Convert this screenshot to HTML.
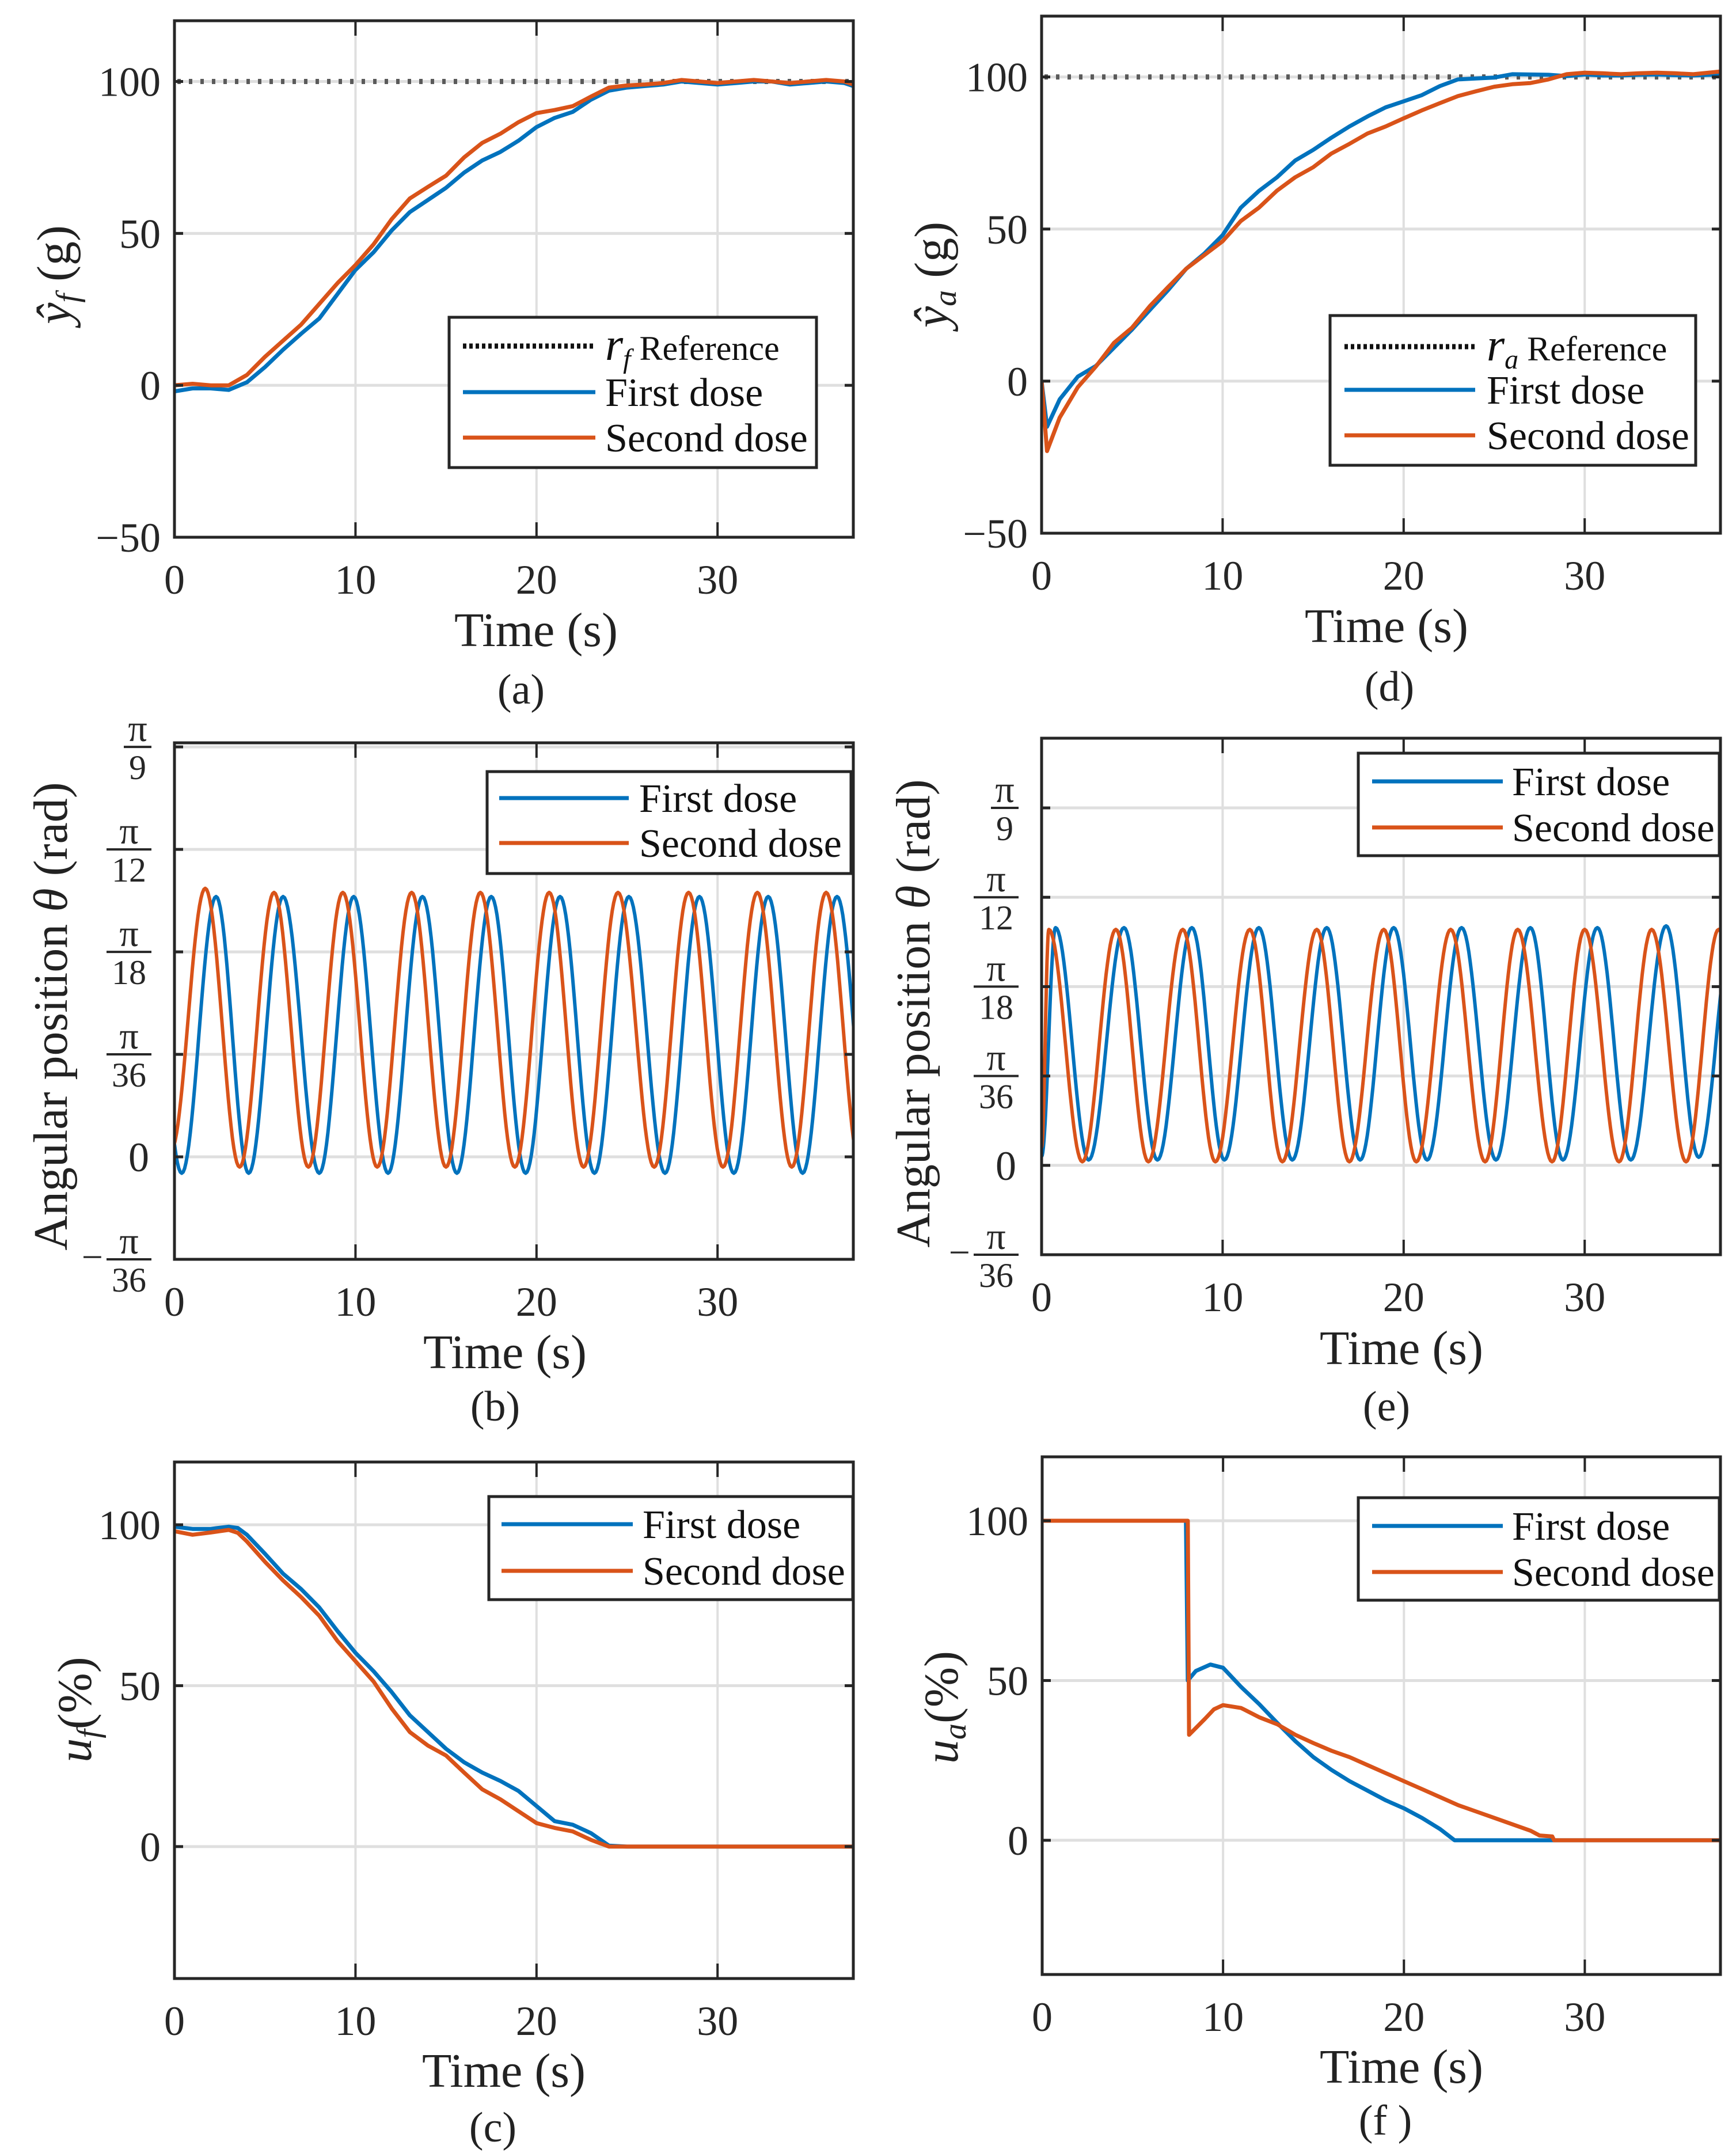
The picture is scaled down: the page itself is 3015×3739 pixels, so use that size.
<!DOCTYPE html>
<html><head><meta charset="utf-8">
<style>
html,body{margin:0;padding:0;background:#fff;}
svg{display:block;font-family:"Liberation Serif","DejaVu Serif",serif;}
text{font-family:"Liberation Serif","DejaVu Serif",serif;}
</style></head>
<body>
<svg id="fig" width="3015" height="3739" viewBox="0 0 3015 3739" xmlns="http://www.w3.org/2000/svg"></svg>
<script>
// ---------- data ----------
const xTicks=[0,10,20,30];
const aTime=[0,1,2,3,4,5,6,7,8,9,10,11,12,13,14,15,16,17,18,19,20,21,22,23,24,25,26,27,28,29,30,31,32,33,34,35,36,37,37.5];
const aFirst=[-2,-1,-1,-1.5,1,6,11.7,17,22,30,38,43.8,51,57,61,65,70,74,76.8,80.5,85,88,90,94,97,98,98.5,99,100,99.5,99,99.5,100,100,99,99.5,100,99.5,98.5];
const aSecond=[0,0.5,0,0,3.4,9.4,14.7,20,26.8,33.6,39.6,46.4,54.7,61.5,65.3,69,75,79.8,82.8,86.6,89.6,90.6,91.9,95,98,98.7,99,99.5,100.5,100,99.5,100,100.5,100,99.5,100,100.5,100,99];
const aRef=[100];
const aYTicks=[-50,0,50,100];

const dTime=[0,0.3,1,2,3,4,5,6,7,8,9,10,11,12,13,14,15,16,17,18,19,20,21,22,23,24,25,26,27,28,29,30,31,32,33,34,35,36,37,37.5];
const dFirst=[0,-15,-6,1.5,5,11,17,23.5,30,37,42,48,57,62.5,67,72.5,76,80,83.7,87,90,92,94,97,99.2,99.5,99.8,100.9,100.8,100.7,100.3,100.8,100.5,100.5,100.7,100.8,100.6,100.5,100.7,100.8];
const dSecond=[0,-23,-12,-2,4.8,12.6,17.6,24.8,31,37,41.5,46,52.6,57,62.6,67,70.3,74.8,78,81.4,83.7,86.4,89,91.4,93.7,95.3,96.8,97.6,98,99.2,100.9,101.4,101.2,100.9,101.2,101.4,101.2,100.9,101.5,101.8];
const dRef=[100];
const dYTicks=[-50,0,50,100];

// angular position: alternating extrema (time, degrees)
const bFirstT=[-1.5,0.4,2.3,4.1,6.0,8.0,9.9,11.8,13.7,15.6,17.5,19.4,21.3,23.2,25.1,27.1,29.0,30.9,32.8,34.7,36.6,38.5];
const bFirstV=[12.7,-0.8,12.7,-0.8,12.7,-0.8,12.7,-0.8,12.7,-0.8,12.7,-0.8,12.7,-0.8,12.7,-0.8,12.7,-0.8,12.7,-0.8,12.7,-0.8];
const bSecondT=[-0.2,1.7,3.6,5.5,7.4,9.3,11.2,13.1,15.0,16.9,18.8,20.7,22.6,24.5,26.5,28.4,30.3,32.2,34.1,36.0,37.9];
const bSecondV=[0.3,13.1,-0.5,12.9,-0.5,12.9,-0.5,12.9,-0.5,12.9,-0.5,12.9,-0.5,12.9,-0.5,12.9,-0.5,12.9,-0.5,12.9,-0.5];
const angTicks=[-5,0,5,10,15,20];
const angDen=["36","","36","18","12","9"];

const eFirstT=[0,0.77,2.6,4.55,6.4,8.3,10.1,12.0,13.85,15.75,17.6,19.45,21.3,23.2,25.1,27.0,28.8,30.7,32.55,34.5,36.3,38.2];
const eFirstV=[0.5,13.3,0.3,13.3,0.3,13.3,0.3,13.3,0.3,13.3,0.3,13.3,0.3,13.3,0.3,13.3,0.3,13.3,0.3,13.4,0.45,13.3];
const eSecondT=[0,0.4,2.25,4.1,5.9,7.8,9.6,11.5,13.3,15.2,17.0,18.9,20.7,22.6,24.5,26.3,28.2,30.0,31.9,33.7,35.6,37.4,39.2];
const eSecondV=[1,13.2,0.2,13.2,0.2,13.2,0.2,13.2,0.2,13.2,0.2,13.2,0.2,13.2,0.2,13.2,0.2,13.2,0.2,13.2,0.2,13.2,0.2];

const cTime=[0,1,2,3,3.5,4,5,6,7,8,9,10,11,12,13,14,15,16,17,18,19,20,21,22,23,24,25,30,37.5];
const cFirst=[99.4,98.7,98.7,99.4,99,96.9,91,84.8,80,74.3,67,60.2,54.5,48,40.8,35.6,30.4,26.2,23,20.4,17.3,12.6,7.9,6.8,4.2,0.3,0,0,0];
const cSecond=[98,96.9,97.6,98.4,97.5,94.8,88.5,82.7,77.5,71.7,63.9,57.6,51.3,42.9,35.6,31.4,28.3,23,17.8,14.7,11,7.3,5.8,4.7,2.1,0,0,0,0];
const uYTicks=[0,50,100];

const fFirstT=[0,7.95,8.05,8.5,9.3,10,11,12,13,14,15,16,17,18,19,20,21,22,22.8,37.5];
const fFirstV=[100,100,50,53,55,54,48,42.6,36.7,31,26,22,18.5,15.5,12.5,10,7,3.5,0,0];
const fSecondT=[0,8.05,8.12,9,9.5,10,11,12,13,14,15,16,17,18,19,20,21,22,23,24,25,26,27,27.5,28.2,28.3,37.5];
const fSecondV=[100,100,33,38,41,42.3,41.4,38.5,36.3,33,30.4,28,26,23.5,21,18.5,16,13.5,11,9,7,5,3,1.5,1.2,0,0];

// ---------- rendering ----------
const NS="http://www.w3.org/2000/svg";
const FONT='"Liberation Serif","DejaVu Serif",serif';
const svg=document.getElementById('fig');
const BLUE="#0072BD",ORANGE="#D95319",AX="#262626",GRID="#dfdfdf";
function mk(tag,attrs,parent){const e=document.createElementNS(NS,tag);for(const k in attrs)e.setAttribute(k,attrs[k]);if(tag==='text')e.setAttribute('font-family',FONT);(parent||svg).appendChild(e);return e;}

function axes(P){
  const g=mk('g',{});
  
  
  P.X=t=>P.x0+t/P.xmax*(P.x1-P.x0);
  P.Y=v=>P.y1-(v-P.ymin)/(P.ymax-P.ymin)*(P.y1-P.y0);
  const cp=mk('clipPath',{id:'clip-'+P.name},g);
  mk('rect',{x:P.x0,y:P.y0,width:P.x1-P.x0,height:P.y1-P.y0},cp);
  xTicks.forEach(t=>{
    const l=mk('line',{x1:P.X(t),x2:P.X(t),y1:P.y0,y2:P.y1,stroke:GRID,'stroke-width':4},g);
    
    
  });
  P.yTicks.forEach(v=>{
    const l=mk('line',{x1:P.x0,x2:P.x1,y1:P.Y(v),y2:P.Y(v),stroke:GRID,'stroke-width':5},g);
    
    
  });
  P.g=g;return g;
}
function finishAxes(P){
  const g=P.g;
  xTicks.forEach(t=>{
    mk('line',{x1:P.X(t),x2:P.X(t),y1:P.y1,y2:P.y1-26,stroke:AX,'stroke-width':4},g);
    mk('line',{x1:P.X(t),x2:P.X(t),y1:P.y0,y2:P.y0+26,stroke:AX,'stroke-width':4},g);
    const tx=mk('text',{x:P.X(t),y:P.y1+98,'font-size':72,'text-anchor':'middle',fill:AX},g);
    tx.textContent=t;
    
    
  });
  P.yTicks.forEach((v,i)=>{
    mk('line',{x1:P.x0,x2:P.x0+15,y1:P.Y(v),y2:P.Y(v),stroke:AX,'stroke-width':5},g);
    mk('line',{x1:P.x1,x2:P.x1-15,y1:P.Y(v),y2:P.Y(v),stroke:AX,'stroke-width':5},g);
    if(P.frac){
      const den=angDen[i];
      const yy=P.Y(v);
      if(den===""){
        const tx=mk('text',{x:P.x0-44,y:yy+25,'font-size':72,'text-anchor':'end',fill:AX},g);
        tx.textContent="0";
        
        
      } else {
        const w=den.length>1?78:48;
        const xr=P.x0-40, xl=xr-w, xc=(xl+xr)/2;
        mk('line',{x1:xl,x2:xr,y1:yy,y2:yy,stroke:AX,'stroke-width':4},g);
        const pn=mk('text',{x:xc,y:yy-10,'font-size':66,'text-anchor':'middle',fill:AX},g);
        pn.textContent="π";
        
        
        const dn=mk('text',{x:xc,y:yy+56,'font-size':60,'text-anchor':'middle',fill:AX},g);
        dn.textContent=den;
        
        
        if(v<0){
          const mn=mk('text',{x:xl-6,y:yy+18,'font-size':66,'text-anchor':'end',fill:AX},g);
          mn.textContent="−";
          
          
        }
      }
    } else {
      const tx=mk('text',{x:P.x0-24,y:P.Y(v)+25,'font-size':72,'text-anchor':'end',fill:AX},g);
      tx.textContent=(v<0?"−":"")+Math.abs(v);
      
      
    }
  });
  const box=mk('rect',{x:P.x0,y:P.y0,width:P.x1-P.x0,height:P.y1-P.y0,fill:'none',stroke:AX,'stroke-width':5},g);
  
  
}
function polyline(P,ts,vs,color,name){
  let d='';
  ts.forEach((t,i)=>{d+=(i?'L':'M')+P.X(t).toFixed(1)+','+P.Y(vs[i]).toFixed(1);});
  const p=mk('path',{d:d,fill:'none',stroke:color,'stroke-width':7,'stroke-linejoin':'round','clip-path':'url(#clip-'+P.name+')'},P.g);
  
  
}
function oscill(P,ts,vs,color,name){
  let d='';
  for(let i=0;i<ts.length-1;i++){
    const n=24;
    for(let k=(i?1:0);k<=n;k++){
      const f=k/n, t=ts[i]+(ts[i+1]-ts[i])*f;
      const v=vs[i]+(vs[i+1]-vs[i])*(1-Math.cos(Math.PI*f))/2;
      d+=(d?'L':'M')+P.X(t).toFixed(1)+','+P.Y(v).toFixed(1);
    }
  }
  const p=mk('path',{d:d,fill:'none',stroke:color,'stroke-width':6,'stroke-linejoin':'round','clip-path':'url(#clip-'+P.name+')'},P.g);
  
  
}
function refLine(P,vals){
  const l=mk('line',{x1:P.x0+5,x2:P.x1,y1:P.Y(vals[0]),y2:P.Y(vals[0]),stroke:'#5a5a5a','stroke-width':9,'stroke-dasharray':'6 14'},P.g);
  
  
}
function legend(L,entries){
  const g=mk('g',{});
  
  
  mk('rect',{x:L.x,y:L.y,width:L.w,height:L.h,fill:'#fff',stroke:AX,'stroke-width':5},g);
  entries.forEach((e,i)=>{
    const yy=L.rows[i];
    const ln=mk('line',{x1:L.lx1,x2:L.lx2,y1:yy,y2:yy,stroke:e.color,'stroke-width':e.dot?9:7,'stroke-dasharray':e.dot?'6 5':'none'},g);
    
    
    const tx=mk('text',{x:L.tx,y:yy+24,'font-size':e.small?60:70,fill:'#111'},g);
    if(e.sym){
      const s=document.createElementNS(NS,'tspan');s.setAttribute('font-style','italic');s.setAttribute('font-size','80');s.textContent=e.sym;tx.appendChild(s);
      const sb=document.createElementNS(NS,'tspan');sb.setAttribute('font-style','italic');sb.setAttribute('font-size','48');sb.setAttribute('dy','14');sb.textContent=e.sub;tx.appendChild(sb);
      const r=document.createElementNS(NS,'tspan');r.setAttribute('dy','-14');r.textContent='  '+e.label;tx.appendChild(r);
    } else tx.textContent=e.label;
    
    
  });
}
function label(x,y,content,size,rot,name){
  const t=mk('text',{x:x,y:y,'font-size':size,'text-anchor':'middle',fill:'#222',transform:rot?`rotate(-90 ${x} ${y})`:''});
  t.innerHTML=content;
  
  
}

const PA={name:'panel-a',x0:303,x1:1482,y0:36,y1:933,xmax:37.5,ymin:-50,ymax:120,yTicks:aYTicks};
const PD={name:'panel-d',x0:1809,x1:2988,y0:28,y1:926,xmax:37.5,ymin:-50,ymax:120,yTicks:dYTicks};
const PB={name:'panel-b',x0:303,x1:1482,y0:1290,y1:2187,xmax:37.5,ymin:-5,ymax:20.2,yTicks:angTicks,frac:true};
const PE={name:'panel-e',x0:1809,x1:2988,y0:1282,y1:2179,xmax:37.5,ymin:-5,ymax:23.9,yTicks:angTicks,frac:true};
const PC={name:'panel-c',x0:303,x1:1482,y0:2539,y1:3436,xmax:37.5,ymin:-41,ymax:119.5,yTicks:uYTicks};
const PF={name:'panel-f',x0:1810,x1:2988,y0:2530,y1:3429,xmax:37.5,ymin:-42,ymax:120,yTicks:uYTicks};

axes(PA);refLine(PA,aRef);polyline(PA,aTime,aFirst,BLUE,'first-dose-line');polyline(PA,aTime,aSecond,ORANGE,'second-dose-line');finishAxes(PA);
axes(PD);refLine(PD,dRef);polyline(PD,dTime,dFirst,BLUE,'first-dose-line');polyline(PD,dTime,dSecond,ORANGE,'second-dose-line');finishAxes(PD);
axes(PB);oscill(PB,bFirstT,bFirstV,BLUE,'first-dose-line');oscill(PB,bSecondT,bSecondV,ORANGE,'second-dose-line');finishAxes(PB);
axes(PE);oscill(PE,eFirstT,eFirstV,BLUE,'first-dose-line');oscill(PE,eSecondT,eSecondV,ORANGE,'second-dose-line');finishAxes(PE);
axes(PC);polyline(PC,cTime,cFirst,BLUE,'first-dose-line');polyline(PC,cTime,cSecond,ORANGE,'second-dose-line');finishAxes(PC);
axes(PF);polyline(PF,fFirstT,fFirstV,BLUE,'first-dose-line');polyline(PF,fSecondT,fSecondV,ORANGE,'second-dose-line');finishAxes(PF);

legend({x:780,y:551,w:638,h:261,lx1:804,lx2:1034,tx:1051,rows:[601,681,760]},
  [{color:'#111',dot:true,sym:'r',sub:'f',label:'Reference',small:true},{color:BLUE,label:'First dose'},{color:ORANGE,label:'Second dose'}]);
legend({x:2310,y:548,w:635,h:260,lx1:2335,lx2:2562,tx:2582,rows:[602,677,756]},
  [{color:'#111',dot:true,sym:'r',sub:'a',label:'Reference',small:true},{color:BLUE,label:'First dose'},{color:ORANGE,label:'Second dose'}]);
legend({x:846,y:1340,w:632,h:177,lx1:867,lx2:1092,tx:1110,rows:[1386,1464]},
  [{color:BLUE,label:'First dose'},{color:ORANGE,label:'Second dose'}]);
legend({x:2359,y:1308,w:627,h:178,lx1:2383,lx2:2610,tx:2626,rows:[1357,1437]},
  [{color:BLUE,label:'First dose'},{color:ORANGE,label:'Second dose'}]);
legend({x:849,y:2599,w:632,h:179,lx1:871,lx2:1099,tx:1116,rows:[2647,2728]},
  [{color:BLUE,label:'First dose'},{color:ORANGE,label:'Second dose'}]);
legend({x:2359,y:2601,w:627,h:178,lx1:2383,lx2:2610,tx:2626,rows:[2650,2730]},
  [{color:BLUE,label:'First dose'},{color:ORANGE,label:'Second dose'}]);

label(931,1122,'Time (s)',84,false,'x-axis-title');
label(2408,1115,'Time (s)',84,false,'x-axis-title');
label(877,2376,'Time (s)',84,false,'x-axis-title');
label(2434,2369,'Time (s)',84,false,'x-axis-title');
label(875,3624,'Time (s)',84,false,'x-axis-title');
label(2434,3617,'Time (s)',84,false,'x-axis-title');
label(122,477,'<tspan font-style="italic">ŷ</tspan><tspan font-style="italic" font-size="56" dy="14">f</tspan><tspan dy="-14"> (g)</tspan>',84,true,'y-axis-title');
label(1646,477,'<tspan font-style="italic">ŷ</tspan><tspan font-style="italic" font-size="56" dy="14">a</tspan><tspan dy="-14"> (g)</tspan>',84,true,'y-axis-title');
label(116,1765,'Angular position <tspan font-style="italic">θ</tspan> (rad)',84,true,'y-axis-title');
label(1614,1760,'Angular position <tspan font-style="italic">θ</tspan> (rad)',84,true,'y-axis-title');
label(158,2969,'<tspan font-style="italic">u</tspan><tspan font-style="italic" font-size="56" dy="14">f</tspan><tspan dy="-14">(%)</tspan>',84,true,'y-axis-title');
label(1663,2965,'<tspan font-style="italic">u</tspan><tspan font-style="italic" font-size="56" dy="14">a</tspan><tspan dy="-14">(%)</tspan>',84,true,'y-axis-title');
label(905,1222,'(a)',74,false,'caption-a');
label(2413,1217,'(d)',74,false,'caption-d');
label(860,2467,'(b)',74,false,'caption-b');
label(2408,2467,'(e)',74,false,'caption-e');
label(856,3719,'(c)',74,false,'caption-c');
label(2406,3707,'(f )',74,false,'caption-f');
</script>
</body></html>
